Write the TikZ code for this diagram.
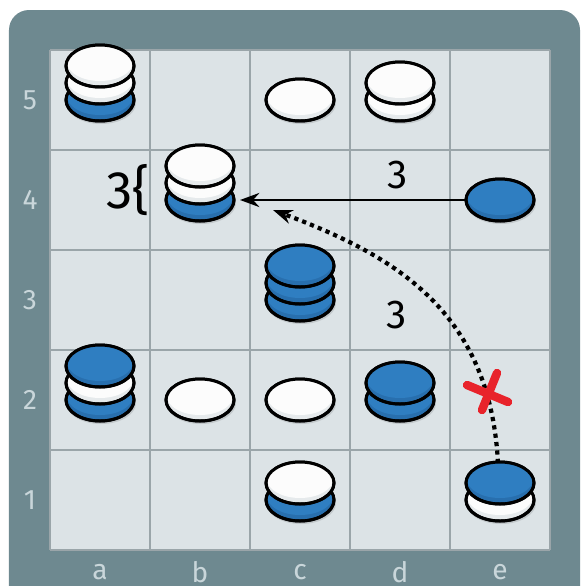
\documentclass[tikz,border=0pt]{standalone}
\usepackage{fontspec}
\setmainfont{Fira Sans}
\usetikzlibrary{arrows.meta, positioning}
\definecolor{panel}{HTML}{6E8990}
\definecolor{cellbg}{HTML}{DCE3E6}
\definecolor{gridln}{HTML}{9AA5A9}
\definecolor{lbl}{HTML}{C9D6DA}
\definecolor{wtop}{HTML}{FCFCFC}
\definecolor{wside}{HTML}{E6EAEC}
\definecolor{btop}{HTML}{2F7EC1}
\definecolor{bside}{HTML}{286FAE}
\definecolor{xred}{HTML}{E8232B}
\tikzset{
	coordlabel/.style={font=\fontsize{8}{10}\selectfont\color{lbl}},
	movelabel/.style={font=\fontsize{11.5}{13}\selectfont}
}
\tikzset{
	discline/.style={draw=black, line width=0.85pt}
}
% name, x, y (cell centre), colours from bottom to top
\newcommand{\stackat}[4]{%
  \coordinate (#1) at (#2,#3);
  \fill[black, opacity=0.12] (#2+0.01,#3-0.03) ellipse[x radius=0.35, y radius=0.21];
  \foreach \col [count=\i from 0] in {#4}{
    \pgfmathsetmacro{\cy}{#3+0.17*\i}
    \filldraw[discline, fill=\col side] (#2,\cy) ellipse[x radius=0.34, y radius=0.21];
    \begin{scope}
      \clip (#2,\cy) ellipse[x radius=0.34, y radius=0.21];
      \fill[\col top] (#2,\cy+0.04) ellipse[x radius=0.33, y radius=0.19];
    \end{scope}
    \draw[discline] (#2,\cy) ellipse[x radius=0.34, y radius=0.21];
  }%
}

\begin{document}
\begin{tikzpicture}[x=1cm, y=1cm]
      \useasboundingbox (-0.5,-0.35) rectangle (5.36,5.5);
      % board
      \fill[panel, rounded corners=0.2cm] (-0.41,-0.7) rectangle (5.30,5.40);
      \fill[cellbg] (0,0) rectangle (5,5);
      \draw[gridln, line width=0.6pt] (0,0) grid (5,5);
      \foreach \r in {1,...,5}
        \node[coordlabel] (row\r) at (-0.2,\r-0.5) {\r};
      \foreach \f [count=\i] in {a,b,c,d,e}
        \node[coordlabel] (col\f) at (\i-0.5,-0.22) {\f};
      % stacks
      \stackat{a5}{0.5}{4.5}{b,w,w}
      \stackat{c5}{2.5}{4.5}{w}
      \stackat{d5}{3.5}{4.5}{w,w}
      \stackat{b4}{1.5}{3.5}{b,w,w}
      \stackat{e4}{4.5}{3.5}{b}
      \stackat{c3}{2.5}{2.5}{b,b,b}
      \stackat{a2}{0.5}{1.5}{b,w,b}
      \stackat{b2}{1.5}{1.5}{w}
      \stackat{c2}{2.5}{1.5}{w}
      \stackat{d2}{3.5}{1.5}{b,b}
      \stackat{c1}{2.5}{0.5}{b,w}
      \stackat{e1}{4.5}{0.5}{w,b}
      \node[font=\fontsize{15}{17}\selectfont] (count) at (0.78,3.6) {3\{};
      % moves
      \draw[line width=0.8pt, -{Stealth[length=5.5pt, width=4pt]}]
        ([xshift=-0.35cm]e4) -- ([xshift=0.4cm]b4);
      \node[movelabel] (straight) at (3.48,3.75) {3};
      \draw[line width=1.2pt, dash pattern=on 1.2pt off 1.2pt, -{Stealth[length=5.5pt, width=4pt]}]
        ([xshift=-0.02cm, yshift=0.37cm]e1) .. controls (4.4,2.4) and (3.43,2.95) .. ([xshift=0.73cm, yshift=-0.1cm]b4);
      \node[movelabel] (curved) at (3.47,2.35) {3};
      \coordinate (cross) at (4.38,1.57);
      \draw[xred, line width=2.4pt, line cap=round]
        ([shift={(-0.21,0.08)}]cross) -- ([shift={(0.2,-0.09)}]cross)
        ([shift={(0.09,0.2)}]cross) -- ([shift={(-0.06,-0.17)}]cross);
\end{tikzpicture}
\end{document}
